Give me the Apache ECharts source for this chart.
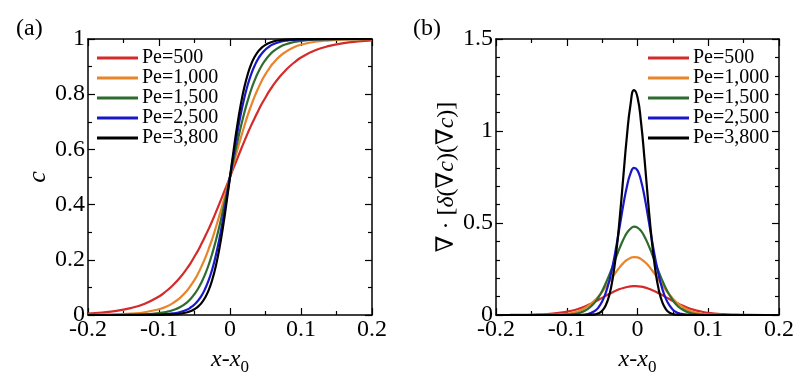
<!DOCTYPE html>
<html>
<head>
<meta charset="utf-8">
<script src="https://cdn.jsdelivr.net/npm/echarts@6/dist/echarts.min.js"></script>
<style>
html,body{margin:0;padding:0;background:#fff;}
#chart{width:800px;height:381px;}
</style>
</head>
<body>
<div id="chart"></div>
<script>
// ---------- data ----------
var seriesNames = ['Pe=500', 'Pe=1,000', 'Pe=1,500', 'Pe=2,500', 'Pe=3,800'];
var seriesColors = ['#d42a2a', '#e8842a', '#2e6b2e', '#1818c8', '#000000'];

var xs = [-0.2,-0.18,-0.16,-0.14,-0.12,-0.1,-0.09,-0.08,-0.07,
  -0.06,-0.055,-0.05,-0.045,-0.04,-0.035,-0.03,-0.025,-0.02,-0.015,-0.01,-0.005,0,
  0.005,0.01,0.015,0.02,0.025,0.03,0.035,0.04,0.045,0.05,0.055,0.06,
  0.07,0.08,0.09,0.1,0.12,0.14,0.16,0.18,0.2];

// panel (a): concentration c
var cPe500  = [0.005,0.009,0.015,0.025,0.041,0.067,0.086,0.109,0.137,0.171,0.19,0.212,0.234,0.259,0.285,0.312,0.341,0.372,0.403,0.435,0.467,0.5,0.533,0.565,0.597,0.628,0.659,0.688,0.715,0.741,0.766,0.788,0.81,0.829,0.863,0.891,0.914,0.933,0.959,0.975,0.985,0.991,0.995];
var cPe1000 = [0.0005,0.001,0.002,0.005,0.01,0.021,0.03,0.044,0.063,0.09,0.108,0.127,0.15,0.177,0.206,0.24,0.276,0.317,0.36,0.405,0.452,0.5,0.548,0.595,0.64,0.683,0.724,0.76,0.794,0.823,0.85,0.873,0.892,0.91,0.937,0.956,0.97,0.979,0.99,0.995,0.998,0.999,0.9995];
var cPe1500 = [0,0.0001,0.0003,0.001,0.0025,0.0067,0.011,0.018,0.029,0.047,0.06,0.076,0.095,0.119,0.148,0.182,0.223,0.269,0.321,0.378,0.438,0.5,0.562,0.622,0.679,0.731,0.777,0.818,0.852,0.881,0.905,0.924,0.94,0.953,0.971,0.982,0.989,0.9933,0.9975,0.999,0.9997,0.9999,1];
var cPe2500 = [0,0,0,0.0001,0.0004,0.0016,0.003,0.0057,0.011,0.02,0.028,0.038,0.052,0.07,0.095,0.126,0.166,0.216,0.275,0.344,0.42,0.5,0.58,0.656,0.725,0.784,0.834,0.874,0.905,0.93,0.948,0.962,0.972,0.98,0.989,0.9943,0.997,0.9984,0.9996,0.9999,1,1,1];
var cPe3800 = [0,0,0,0,0.0001,0.0005,0.001,0.002,0.0046,0.0098,0.0144,0.021,0.0305,0.044,0.0635,0.09,0.1275,0.177,0.24,0.317,0.405,0.5,0.595,0.683,0.76,0.823,0.8725,0.91,0.9365,0.956,0.9695,0.979,0.9856,0.9902,0.9954,0.9979,0.999,0.9995,0.9999,1,1,1,1];

// panel (b): divergence term
var dPe500  = [0,0.0003,0.001,0.003,0.008,0.018,0.026,0.038,0.054,0.072,0.083,0.093,0.104,0.114,0.124,0.133,0.141,0.147,0.152,0.156,0.157,0.156,0.154,0.15,0.144,0.136,0.128,0.118,0.108,0.097,0.087,0.076,0.067,0.057,0.041,0.028,0.019,0.012,0.005,0.002,0.0005,0,0];
var dPe1000 = [0,0,0,0.0002,0.001,0.006,0.013,0.026,0.048,0.081,0.102,0.126,0.152,0.18,0.208,0.235,0.26,0.282,0.299,0.31,0.315,0.313,0.304,0.289,0.27,0.246,0.219,0.191,0.163,0.136,0.112,0.089,0.07,0.054,0.03,0.015,0.007,0.003,0.0004,0,0,0,0];
var dPe1500 = [0,0,0,0,0.0001,0.0017,0.005,0.014,0.033,0.07,0.097,0.131,0.171,0.216,0.266,0.317,0.366,0.41,0.446,0.469,0.48,0.475,0.457,0.425,0.384,0.337,0.286,0.236,0.188,0.146,0.11,0.08,0.056,0.039,0.017,0.006,0.002,0.0006,0,0,0,0,0];
var dPe2500 = [0,0,0,0,0,0,0.0002,0.0011,0.0057,0.023,0.042,0.073,0.119,0.184,0.269,0.372,0.485,0.599,0.697,0.768,0.8,0.786,0.73,0.641,0.531,0.416,0.308,0.216,0.143,0.089,0.053,0.029,0.015,0.008,0.0016,0.0003,0,0,0,0,0,0,0];
var dPe3800 = [0,0,0,0,0,0,0,0,0.0003,0.0033,0.009,0.023,0.052,0.106,0.2,0.342,0.532,0.753,0.971,1.14,1.222,1.184,1.047,0.844,0.618,0.412,0.25,0.138,0.07,0.032,0.013,0.005,0.0017,0.0005,0,0,0,0,0,0,0,0,0];

var cSeries = [cPe500, cPe1000, cPe1500, cPe2500, cPe3800];
var dSeries = [dPe500, dPe1000, dPe1500, dPe2500, dPe3800];

// ---------- chart ----------
var FONT = "'Liberation Serif','Times New Roman','DejaVu Serif',serif";
var chart = echarts.init(document.getElementById('chart'), null, {renderer: 'canvas'});

function pair(vals) { return xs.map(function (x, i) { return [x, vals[i]]; }); }

function baseAxis(extra) {
  var a = {
    type: 'value',
    splitLine: {show: false},
    axisLine: {show: true, onZero: false, lineStyle: {color: '#000', width: 1.5}},
    axisTick: {show: true, inside: true, length: 7, lineStyle: {color: '#000', width: 1.2}},
    minorTick: {show: true, length: 4, lineStyle: {color: '#000', width: 1.2}},
    axisLabel: {show: true, color: '#000', fontFamily: FONT, fontSize: 24, margin: 3}
  };
  for (var k in extra) a[k] = extra[k];
  return a;
}

var xName = '{i|x}{n|-}{i|x}{s|0}';
var nameRich = {
  i: {fontFamily: FONT, fontStyle: 'italic', fontSize: 24, color: '#000', lineHeight: 24, verticalAlign: 'top'},
  n: {fontFamily: FONT, fontSize: 24, color: '#000', lineHeight: 24, verticalAlign: 'top'},
  s: {fontFamily: FONT, fontSize: 17, color: '#000', lineHeight: 24, padding: [11, 0, 0, 0], verticalAlign: 'top'}
};

var xAxes = [], yAxes = [];
[0, 1].forEach(function (g) {
  xAxes.push(baseAxis({gridIndex: g, position: 'bottom', min: -0.2, max: 0.2, interval: 0.1,
    minorTick: {show: true, splitNumber: 2, length: 4, lineStyle: {color: '#000', width: 1.2}},
    name: xName, nameLocation: 'middle', nameGap: 33,
    nameTextStyle: {rich: nameRich}}));
  xAxes.push(baseAxis({gridIndex: g, position: 'top', min: -0.2, max: 0.2, interval: 0.1,
    minorTick: {show: true, splitNumber: 2, length: 4, lineStyle: {color: '#000', width: 1.2}},
    axisLabel: {show: false}}));
});
yAxes.push(baseAxis({gridIndex: 0, position: 'left', min: 0, max: 1, interval: 0.2,
  minorTick: {show: true, splitNumber: 2, length: 4, lineStyle: {color: '#000', width: 1.2}},
  name: 'c', nameLocation: 'middle', nameGap: 35,
  nameTextStyle: {fontFamily: FONT, fontStyle: 'italic', fontSize: 26, color: '#000'}}));
yAxes.push(baseAxis({gridIndex: 0, position: 'right', min: 0, max: 1, interval: 0.2,
  minorTick: {show: true, splitNumber: 2, length: 4, lineStyle: {color: '#000', width: 1.2}},
  axisLabel: {show: false}}));
yAxes.push(baseAxis({gridIndex: 1, position: 'left', min: 0, max: 1.5, interval: 0.5,
  minorTick: {show: true, splitNumber: 5, length: 4, lineStyle: {color: '#000', width: 1.2}},
  name: '{n|\u2207 \u00b7 [}{i|\u03b4}{n|(\u2207}{i|c}{n|)(\u2207}{i|c}{n|)]}',
  nameLocation: 'middle', nameGap: 34,
  nameTextStyle: {rich: {
    i: {fontFamily: FONT, fontStyle: 'italic', fontSize: 24, color: '#000'},
    n: {fontFamily: FONT, fontSize: 24, color: '#000'}
  }}}));
yAxes.push(baseAxis({gridIndex: 1, position: 'right', min: 0, max: 1.5, interval: 0.5,
  minorTick: {show: true, splitNumber: 5, length: 4, lineStyle: {color: '#000', width: 1.2}},
  axisLabel: {show: false}}));

var series = [];
cSeries.forEach(function (vals, k) {
  series.push({type: 'line', name: seriesNames[k], xAxisIndex: 0, yAxisIndex: 0,
    data: pair(vals), showSymbol: false, symbol: 'none', smooth: 0.5,
    lineStyle: {color: seriesColors[k], width: 2.2}, itemStyle: {color: seriesColors[k]},
    animation: false});
});
dSeries.forEach(function (vals, k) {
  series.push({type: 'line', name: seriesNames[k], xAxisIndex: 2, yAxisIndex: 2,
    data: pair(vals), showSymbol: false, symbol: 'none', smooth: 0.5,
    lineStyle: {color: seriesColors[k], width: 2.2}, itemStyle: {color: seriesColors[k]},
    animation: false});
});

function legendAt(left) {
  return {
    data: seriesNames, left: left, top: 48, orient: 'vertical', padding: 0,
    itemWidth: 41, itemHeight: 3, itemGap: 0, icon: 'rect', selectedMode: false,
    textStyle: {fontFamily: FONT, fontSize: 20, color: '#000', lineHeight: 20, padding: [0, 0, 0, -1]}
  };
}

chart.setOption({
  animation: false,
  backgroundColor: '#fff',
  grid: [
    {left: 88, top: 39, width: 284, height: 281},
    {left: 496, top: 39, width: 283, height: 281}
  ],
  xAxis: xAxes,
  yAxis: yAxes,
  legend: [legendAt(97), legendAt(648)],
  graphic: [
    {type: 'text', left: 16, top: 17, style: {text: '(a)', fontFamily: FONT, fontSize: 24, fill: '#000'}},
    {type: 'text', left: 413, top: 17, style: {text: '(b)', fontFamily: FONT, fontSize: 24, fill: '#000'}}
  ],
  series: series
});
</script>
</body>
</html>
